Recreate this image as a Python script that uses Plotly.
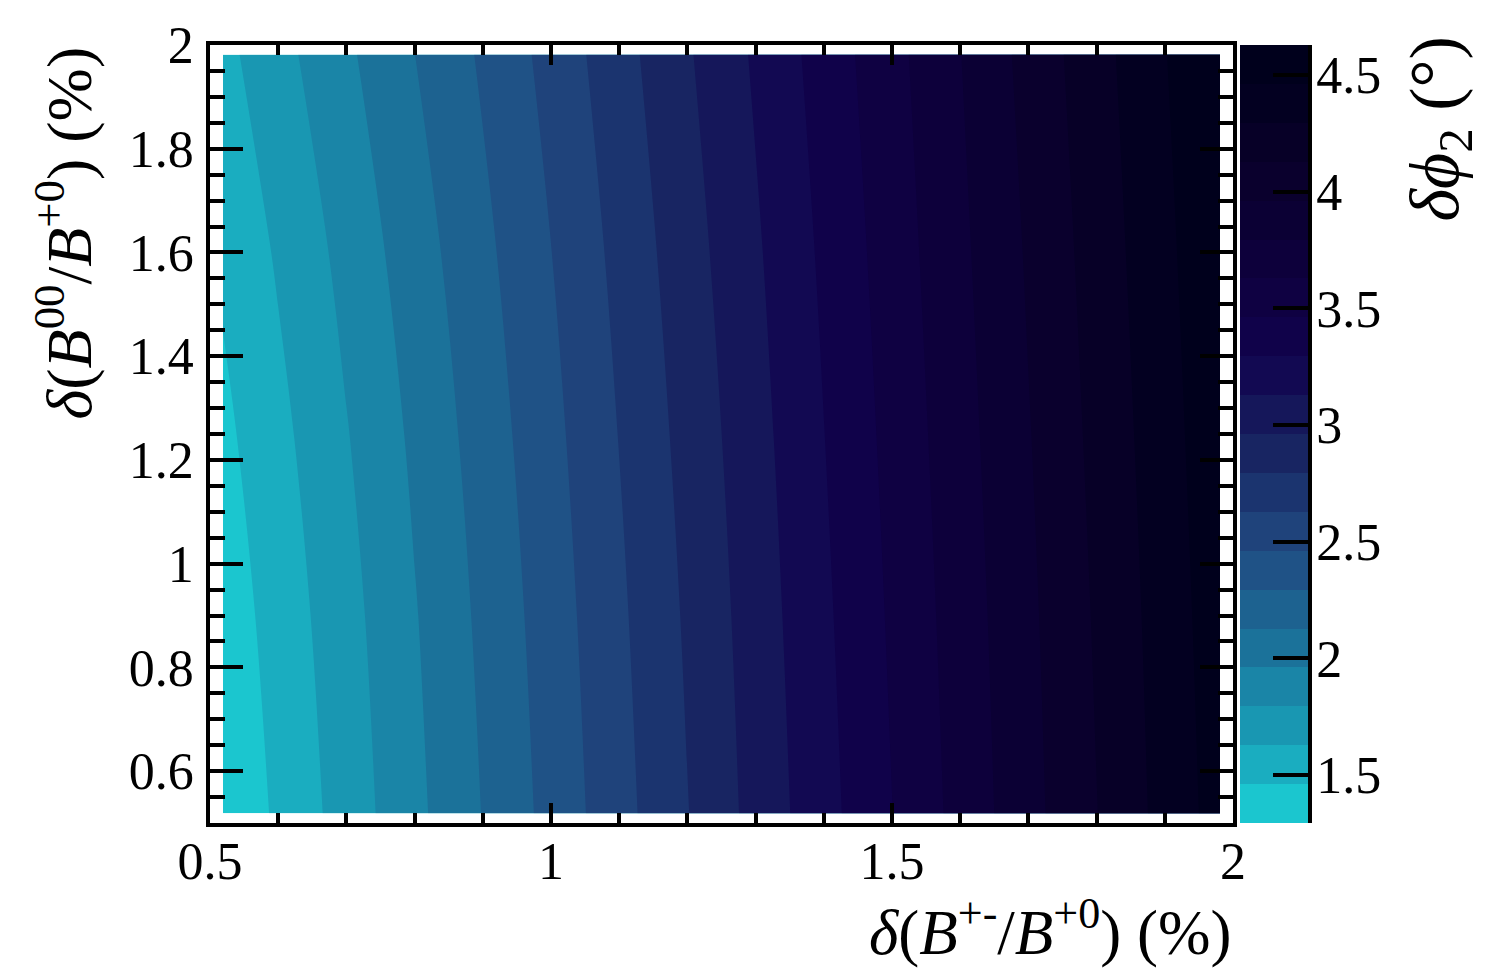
"""Filled contour of delta phi2 vs branching-fraction uncertainties (Plotly)."""

import plotly.graph_objects as go

# bin centres (%)
x_vals = [0.519, 0.6, 0.7, 0.8, 0.9, 1.0, 1.1, 1.2, 1.3, 1.4, 1.5, 1.6, 1.7, 1.8, 1.9, 1.981]
y_vals = [0.519, 0.9, 1.241, 1.6, 1.981]

# delta phi2 (deg), one list per y row
z_y0519 = [1.318, 1.490, 1.702, 1.919, 2.134, 2.349, 2.569, 2.789,
           3.017, 3.236, 3.459, 3.683, 3.907, 4.124, 4.351, 4.530]
z_y0900 = [1.366, 1.530, 1.737, 1.950, 2.165, 2.378, 2.598, 2.818,
           3.041, 3.263, 3.485, 3.706, 3.927, 4.147, 4.371, 4.553]
z_y1241 = [1.421, 1.580, 1.784, 1.992, 2.203, 2.413, 2.632, 2.851,
           3.069, 3.291, 3.511, 3.731, 3.951, 4.172, 4.394, 4.577]
z_y1600 = [1.492, 1.648, 1.847, 2.050, 2.253, 2.459, 2.675, 2.892,
           3.105, 3.324, 3.541, 3.759, 3.980, 4.200, 4.421, 4.603]
z_y1981 = [1.581, 1.738, 1.931, 2.127, 2.319, 2.518, 2.731, 2.943,
           3.151, 3.365, 3.575, 3.791, 4.016, 4.232, 4.454, 4.634]

# colour axis
z_min = 1.295
z_max = 4.628
n_bands = 20

x_tick_vals = [0.5, 1, 1.5, 2]
y_tick_vals = [0.6, 0.8, 1, 1.2, 1.4, 1.6, 1.8, 2]
cbar_tick_vals = [1.5, 2, 2.5, 3, 3.5, 4, 4.5]

FONT = "Liberation Serif"

# ROOT kDeepSea palette stops
DEEPSEA_STOPS = [0.0, 0.125, 0.25, 0.375, 0.5, 0.625, 0.75, 0.875, 1.0]
DEEPSEA_R = [0, 9, 13, 17, 24, 32, 27, 25, 29]
DEEPSEA_G = [0, 0, 0, 2, 37, 74, 113, 160, 221]
DEEPSEA_B = [28, 42, 59, 78, 98, 129, 154, 184, 221]


def deepsea_color(pos):
    for i in range(len(DEEPSEA_STOPS) - 1):
        s0, s1 = DEEPSEA_STOPS[i], DEEPSEA_STOPS[i + 1]
        if pos <= s1 or i == len(DEEPSEA_STOPS) - 2:
            f = (pos - s0) / (s1 - s0)
            r = DEEPSEA_R[i] + f * (DEEPSEA_R[i + 1] - DEEPSEA_R[i])
            g = DEEPSEA_G[i] + f * (DEEPSEA_G[i + 1] - DEEPSEA_G[i])
            b = DEEPSEA_B[i] + f * (DEEPSEA_B[i + 1] - DEEPSEA_B[i])
            return f"rgb({round(r)},{round(g)},{round(b)})"


def band_colors(n, n_colors=255):
    # same colour pick as ROOT CONTZ, on the inverted palette
    out = []
    for k in range(n):
        idx = int((k + 0.99) * n_colors / n)
        out.append(deepsea_color((n_colors - 1 - idx) / (n_colors - 1)))
    return out


def create_figure() -> go.Figure:
    step = (z_max - z_min) / n_bands
    colors = band_colors(n_bands)
    colorscale = [[k / (n_bands - 1), c] for k, c in enumerate(colors)]
    levels = [z_min + k * step for k in range(n_bands + 1)]

    fig = go.Figure()

    fig.add_trace(
        go.Contour(
            x=x_vals,
            y=y_vals,
            z=[z_y0519, z_y0900, z_y1241, z_y1600, z_y1981],
            autocontour=False,
            contours=dict(start=z_min + step, end=z_max - step, size=step, coloring="fill"),
            colorscale=colorscale,
            line=dict(width=0),
            showscale=False,
            hoverinfo="skip",
        )
    )

    # palette bar
    fig.add_trace(
        go.Bar(
            x=["z"] * n_bands,
            y=[step] * n_bands,
            base=levels[:-1],
            marker=dict(color=colors, line=dict(width=0)),
            xaxis="x2",
            yaxis="y2",
            hoverinfo="skip",
        )
    )

    frame = dict(
        showline=True,
        linewidth=3.5,
        linecolor="black",
        mirror="ticks",
        ticks="inside",
        tickwidth=3.5,
        tickcolor="black",
        showgrid=False,
        zeroline=False,
        automargin=False,
        tickfont=dict(family=FONT, size=52, color="black"),
    )

    # page body has an 8px margin, so the figure is laid out 8px in
    main_w = 1023 / 1100
    fig.update_layout(
        width=1487,
        height=964,
        margin=dict(l=202, r=185, t=37, b=149),
        paper_bgcolor="white",
        plot_bgcolor="white",
        showlegend=False,
        barmode="overlay",
        bargap=0,
        xaxis=dict(
            frame,
            domain=[0, main_w],
            range=[0.5, 2],
            tickvals=x_tick_vals,
            ticklen=20,
            ticklabelstandoff=-10,
            minor=dict(ticks="inside", ticklen=10, tickwidth=3.5, tickcolor="black", dtick=0.1, tick0=0),
        ),
        yaxis=dict(
            frame,
            range=[0.5, 2],
            tickvals=y_tick_vals,
            ticklen=33,
            ticklabelstandoff=2,
            minor=dict(ticks="inside", ticklen=15, tickwidth=3.5, tickcolor="black", dtick=0.05, tick0=0),
        ),
        xaxis2=dict(
            domain=[1030 / 1100, 1098 / 1100],
            anchor="y2",
            visible=False,
            fixedrange=True,
        ),
        yaxis2=dict(
            anchor="x2",
            side="right",
            range=[z_min, z_max],
            tickvals=cbar_tick_vals,
            ticks="inside",
            ticklen=35,
            tickwidth=3.5,
            tickcolor="black",
            showline=True,
            linewidth=3.5,
            linecolor="black",
            showgrid=False,
            zeroline=False,
            automargin=False,
            ticklabelstandoff=-6,
            tickfont=dict(family=FONT, size=52, color="black"),
        ),
    )

    title_font = dict(family=FONT, size=63, color="black")
    fig.add_annotation(
        text="<i>δ</i>(<i>B</i><sup>+-</sup>/<i>B</i><sup>+0</sup>) (%)",
        xref="paper", yref="paper", x=main_w, y=0,
        xanchor="right", yanchor="middle", yshift=-105,
        showarrow=False, font=title_font,
    )
    fig.add_annotation(
        text="<i>δ</i>(<i>B</i><sup>00</sup>/<i>B</i><sup>+0</sup>) (%)",
        xref="paper", yref="paper", x=-145 / 1100, y=1,
        xanchor="center", yanchor="top", textangle=-90,
        showarrow=False, font=dict(title_font, size=64),
    )
    fig.add_annotation(
        text="<i>δϕ</i><sub>2</sub> (°)",
        xref="paper", yref="paper", x=1229 / 1100, y=1,
        xanchor="center", yanchor="top", yshift=10, textangle=-90,
        showarrow=False, font=dict(title_font, size=70),
    )

    return fig


fig = create_figure()
fig.write_html("out.html")
